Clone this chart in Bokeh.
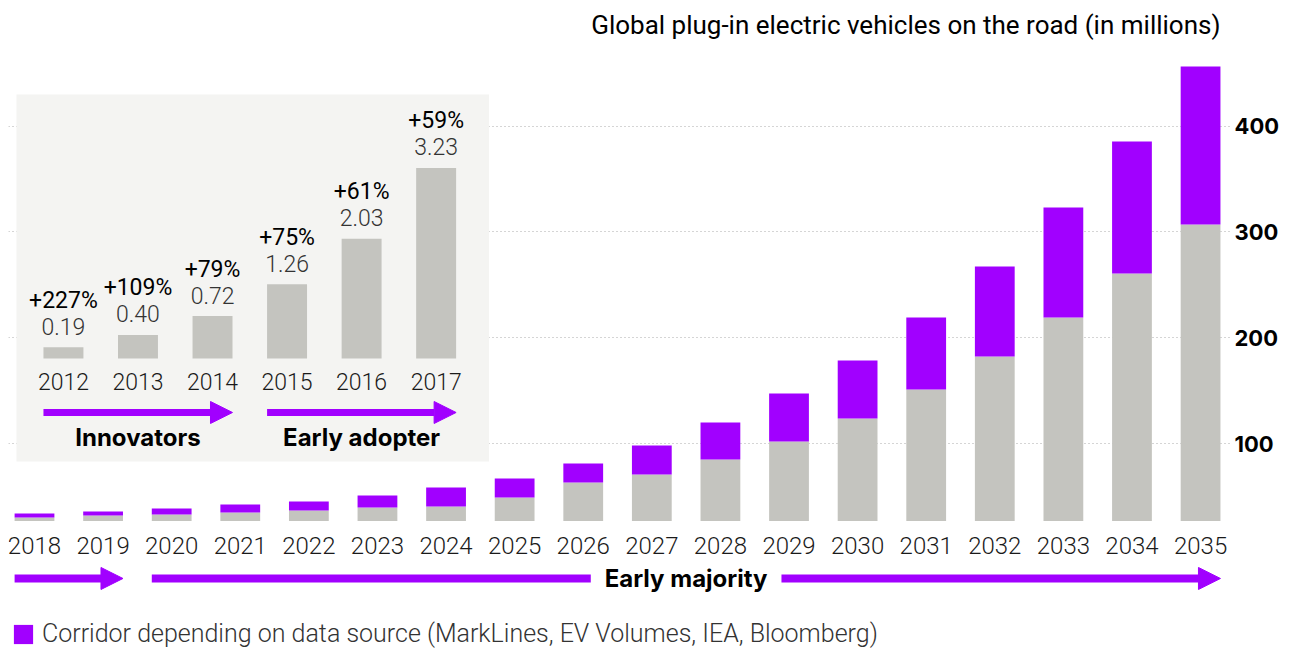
from bokeh.plotting import figure
from bokeh.models import (Range1d, FixedTicker, Arrow, NormalHead, Label,
                          Legend, LegendItem)
from bokeh.core.properties import value
from bokeh.embed import file_html
from bokeh.resources import INLINE

# ---------------- data ----------------
years = [2018, 2019, 2020, 2021, 2022, 2023, 2024, 2025, 2026,
         2027, 2028, 2029, 2030, 2031, 2032, 2033, 2034, 2035]
base_vals = [30.4, 32.3, 33.2, 35.1, 37.0, 39.8, 40.8, 49.3, 63.4,
             71.0, 85.2, 102.2, 123.9, 151.3, 182.4, 219.3, 260.8, 307.0]
total_vals = [34.2, 36.1, 38.9, 42.7, 45.5, 51.2, 58.8, 67.2, 81.4,
              98.4, 120.1, 147.5, 178.7, 219.3, 267.4, 323.1, 385.5, 456.3]
y_ticks = [100, 200, 300, 400]

inset_years = [2012, 2013, 2014, 2015, 2016, 2017]
inset_vals = [0.19, 0.40, 0.72, 1.26, 2.03, 3.23]
inset_val_labels = ["0.19", "0.40", "0.72", "1.26", "2.03", "3.23"]
inset_growth = ["+227%", "+109%", "+79%", "+75%", "+61%", "+59%"]

title_text = "Global plug-in electric vehicles on the road (in millions)"
legend_text = "Corridor depending on data source (MarkLines, EV Volumes, IEA, Bloomberg)"
phase_innov = "Innovators"
phase_early = "Early adopter"
phase_major = "Early majority"

# ---------------- style ----------------
PURPLE = "#a100ff"
GRAY = "#c4c4bf"
PANEL = "#f4f4f2"
LIGHT = value("Roboto Light, Roboto")
REG = value("Roboto")
BOLD = value("Inter")
BASE = 27          # value at which the bars start (frame floor of the bars)
BAR_W = 0.58
INSET_W = 0.536
ARROW_Y = -27.2
INSET_ARROW_Y = -0.915
INSET_LABEL_Y = -1.34

p = figure(width=1282, height=650, output_backend="svg", toolbar_location=None,
           x_axis_location=None, y_axis_location="right",
           x_range=Range1d(2017.621, 2035.451), y_range=Range1d(-95.2, 511.0),
           min_border_left=8, min_border_top=8, min_border_bottom=0,
           min_border_right=50, outline_line_color=None)
p.extra_x_ranges = {"ix": Range1d(2011.263, 2027.670)}
p.extra_y_ranges = {"iy": Range1d(-4.949, 5.932)}

# axis / grid
p.yaxis.ticker = FixedTicker(ticks=y_ticks)
p.yaxis.axis_line_color = None
p.yaxis.major_tick_line_color = None
p.yaxis.minor_tick_line_color = None
p.yaxis.major_tick_out = 0
p.yaxis.major_tick_in = 0
p.yaxis.minor_tick_out = 0
p.yaxis.major_label_standoff = 3
p.yaxis.major_label_text_font = "Inter"
p.yaxis.major_label_text_font_style = "bold"
p.yaxis.major_label_text_font_size = "22px"
p.yaxis.major_label_text_color = "#000000"
p.xgrid.visible = False
p.ygrid.ticker = FixedTicker(ticks=y_ticks)
p.ygrid.grid_line_color = "#aaaaaa"
p.ygrid.grid_line_dash = "1 3"
p.ygrid.grid_line_width = 1

# main bars
p.vbar(x=years, width=BAR_W, bottom=BASE, top=base_vals,
       fill_color=GRAY, line_color=None)
corr = p.vbar(x=years, width=BAR_W, bottom=base_vals, top=total_vals,
              fill_color=PURPLE, line_color=None)

p.text(x=years, y=[BASE] * len(years), text=[str(y) for y in years],
       text_align="center", text_baseline="middle", y_offset=24,
       text_font=LIGHT, text_font_size="24px", text_color="#1a1a1a")

# phase arrows (main)
hw = BAR_W / 2
p.add_layout(Arrow(end=NormalHead(size=22, fill_color=PURPLE, line_color=PURPLE),
                   x_start=years[0] - hw, x_end=years[1] + hw,
                   y_start=ARROW_Y, y_end=ARROW_Y,
                   line_color=PURPLE, line_width=8))
m_left = years[2] - hw
m_right = years[-1] + hw
mid = (m_left + m_right) / 2
gap = 1.39
p.add_layout(Arrow(end=None, x_start=m_left, x_end=mid - gap,
                   y_start=ARROW_Y, y_end=ARROW_Y,
                   line_color=PURPLE, line_width=8))
p.add_layout(Arrow(end=NormalHead(size=22, fill_color=PURPLE, line_color=PURPLE),
                   x_start=mid + gap, x_end=m_right,
                   y_start=ARROW_Y, y_end=ARROW_Y,
                   line_color=PURPLE, line_width=8))
p.text(x=[mid], y=[ARROW_Y], text=[phase_major], text_align="center",
       text_baseline="middle", text_font=BOLD, text_font_style="bold",
       text_font_size="24px", text_color="#000000")

# ---------------- inset ----------------
ihw = INSET_W / 2
p.quad(left=[inset_years[0] - 0.63], right=[inset_years[-1] + 0.71],
       bottom=[-1.746], top=[4.475], fill_color=PANEL, line_color=None,
       x_range_name="ix", y_range_name="iy")
p.vbar(x=inset_years, width=INSET_W, bottom=0, top=inset_vals,
       fill_color=GRAY, line_color=None, x_range_name="ix", y_range_name="iy")
p.text(x=inset_years, y=inset_vals, text=inset_val_labels, text_align="center",
       text_baseline="alphabetic", y_offset=-21, text_font=LIGHT,
       text_font_size="23px", text_color="#333333",
       x_range_name="ix", y_range_name="iy")
p.text(x=inset_years, y=inset_vals, text=inset_growth, text_align="center",
       text_baseline="alphabetic", y_offset=-47, text_font=REG,
       text_font_size="23px", text_color="#000000",
       x_range_name="ix", y_range_name="iy")
p.text(x=inset_years, y=[0] * len(inset_years), text=[str(y) for y in inset_years],
       text_align="center", text_baseline="middle", y_offset=23,
       text_font=LIGHT, text_font_size="23px", text_color="#1a1a1a",
       x_range_name="ix", y_range_name="iy")

for a, b in [(0, 2), (3, 5)]:
    p.add_layout(Arrow(end=NormalHead(size=22, fill_color=PURPLE, line_color=PURPLE),
                       x_start=inset_years[a] - ihw, x_end=inset_years[b] + ihw,
                       y_start=INSET_ARROW_Y, y_end=INSET_ARROW_Y,
                       line_color=PURPLE, line_width=7,
                       x_range_name="ix", y_range_name="iy"))
p.text(x=[inset_years[1], inset_years[4]], y=[INSET_LABEL_Y, INSET_LABEL_Y],
       text=[phase_innov, phase_early], text_align="center", text_baseline="middle",
       text_font=BOLD, text_font_style="bold", text_font_size="24px",
       text_color="#000000", x_range_name="ix", y_range_name="iy")

# title
p.add_layout(Label(x=1212, y=626, x_units="screen", y_units="screen",
                   text=title_text, text_align="right", text_baseline="alphabetic",
                   text_font="Roboto", text_font_size="26px", text_color="#000000"))

# legend
legend = Legend(items=[LegendItem(label=legend_text, renderers=[corr])],
                location=(3, 2), padding=0, margin=0, border_line_color=None,
                background_fill_alpha=0, glyph_width=24, glyph_height=24,
                label_standoff=7, label_text_font="Roboto Light, Roboto",
                label_text_font_size="25px", label_text_color="#333333")
p.add_layout(legend)

open("out.html", "w").write(file_html(p, INLINE))
